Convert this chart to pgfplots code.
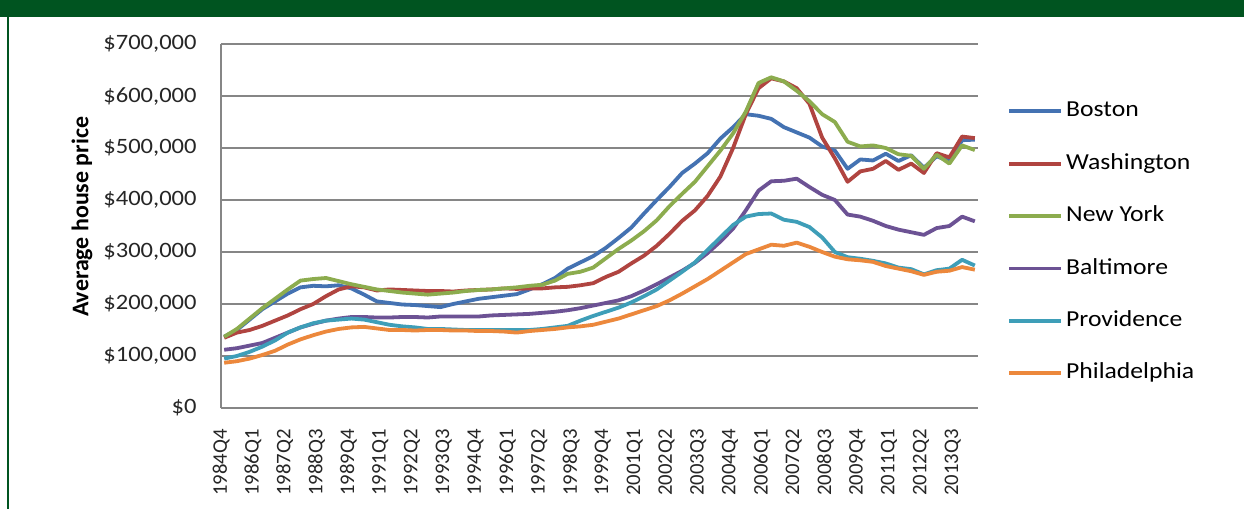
\documentclass[border=0pt]{standalone}
\usepackage{pgfplots}
\pgfplotsset{compat=1.18}
\usepackage{pgfplotstable}
\usepackage{fontspec}
\setmainfont{Carlito}
\newfontfamily\wide{Carlito}[FakeStretch=1.12]
\definecolor{banner}{RGB}{0,84,32}
\definecolor{gridgray}{RGB}{134,134,134}
\definecolor{cBos}{RGB}{68,114,178}
\definecolor{cWas}{RGB}{176,68,64}
\definecolor{cNY}{RGB}{140,172,78}
\definecolor{cBal}{RGB}{108,82,148}
\definecolor{cPro}{RGB}{62,158,184}
\definecolor{cPhi}{RGB}{236,136,60}
\pgfplotstableread{
idx bos was ny bal pro phi
0 137 135 137 112 95 87
2 150 145 152 115 100 90
4 170 150 172 120 108 95
6 190 158 192 125 118 102
8 205 168 210 135 130 110
10 220 178 228 145 145 122
12 232 190 245 155 155 132
14 235 200 248 162 163 140
16 234 215 250 168 168 147
18 236 228 244 172 170 152
20 230 234 238 175 172 155
22 218 232 233 175 170 156
24 205 226 228 174 165 153
26 202 228 225 174 160 150
28 199 227 222 175 157 150
30 198 226 220 175 155 149
32 196 225 218 174 152 150
34 194 225 220 176 152 150
36 200 224 222 176 151 149
38 205 226 225 176 150 149
40 210 227 227 176 150 148
42 213 228 228 178 150 148
44 216 230 230 179 150 147
46 219 229 232 180 150 145
48 228 230 235 181 150 148
50 238 230 237 183 152 150
52 250 232 245 185 155 152
54 268 233 258 188 158 155
56 280 236 262 192 168 157
58 292 240 270 197 177 160
60 308 252 288 202 185 166
62 327 262 306 207 193 172
64 347 278 322 215 203 180
66 374 293 340 226 215 188
68 400 312 361 238 228 196
70 425 335 388 251 245 207
72 452 360 412 264 262 220
74 470 380 435 279 280 234
76 490 408 465 298 304 248
78 518 445 495 320 328 264
80 540 500 528 345 352 280
82 565 565 570 380 368 296
84 562 615 625 418 373 305
86 556 634 636 436 374 314
88 540 628 628 437 362 312
90 530 615 610 441 358 318
92 520 585 590 425 348 310
94 503 520 565 410 328 300
96 495 480 550 400 300 291
98 460 435 512 372 290 286
100 478 455 503 368 287 284
102 476 460 505 360 283 281
104 489 475 500 350 278 273
106 475 458 488 343 270 268
108 486 470 485 338 267 263
110 462 452 460 333 257 256
112 484 490 487 346 265 262
114 475 482 470 350 268 264
116 515 522 505 368 285 271
118 516 519 496 359 274 266
}\data
\begin{document}
\begin{tikzpicture}
\useasboundingbox (-110.5bp,-50.5bp) rectangle (511.5bp,204bp);
\fill[white] (-110.5bp,-50.5bp) rectangle (511.5bp,204bp);
\fill[banner] (-110.5bp,195.5bp) rectangle (511.5bp,204bp);
\draw[banner, line width=0.8bp] (-106.5bp,-50.5bp) -- (-106.5bp,195.5bp);
\begin{axis}[
  at={(0,0)}, anchor=south west,
  scale only axis, width=378.5bp, height=182bp,
  xmin=-0.5, xmax=118.5, ymin=0, ymax=700,
  axis lines*=left,
  axis line style={draw=gridgray, line width=0.75bp},
  ymajorgrids, major grid style={draw=gridgray, line width=0.75bp},
  major tick length=0pt,
  ytick={0,100,...,700},
  yticklabels={{\$0},{\$100,000},{\$200,000},{\$300,000},{\$400,000},{\$500,000},{\$600,000},{\$700,000}},
  yticklabel style={font=\wide\fontsize{11}{13}\selectfont, inner sep=0pt, text=black!85},
  yticklabel shift=12bp,
  xtick={0,5,...,115},
  xticklabels={1984Q4,1986Q1,1987Q2,1988Q3,1989Q4,1991Q1,1992Q2,1993Q3,1994Q4,1996Q1,1997Q2,1998Q3,1999Q4,2001Q1,2002Q2,2003Q3,2004Q4,2006Q1,2007Q2,2008Q3,2009Q4,2011Q1,2012Q2,2013Q3},
  xticklabel style={xshift=-1.5bp, rotate=90, anchor=east, inner sep=0pt, font=\fontsize{10.4}{12}\selectfont, text=black!85},
  xticklabel shift=10.5bp,
  ylabel={Average house price},
  every axis y label/.style={at={(axis description cs:-0.1836,0.525)}, rotate=90, anchor=center, font=\bfseries\fontsize{12}{14}\selectfont},
  legend style={at={(1,0.455)}, anchor=west, xshift=14.5bp, draw=none, fill=none, inner sep=0pt,
    font=\wide\fontsize{11.5}{13}\selectfont, row sep=15.7bp, column sep=0bp,
    nodes={inner sep=0pt, text height=8bp, text depth=2.5bp}},
  legend cell align=left,
  legend image code/.code={\draw[#1] (0bp,0bp) -- (26bp,0bp);},
  every axis plot/.append style={line width=1.9bp, line join=round},
  clip=false,
]
\addplot[cBos] table[x=idx,y=bos] {\data};
\addlegendentry{\hspace{1.5bp}Boston}
\addplot[cWas] table[x=idx,y=was] {\data};
\addlegendentry{\hspace{1.5bp}Washington}
\addplot[cNY] table[x=idx,y=ny] {\data};
\addlegendentry{\hspace{1.5bp}New York}
\addplot[cBal] table[x=idx,y=bal] {\data};
\addlegendentry{\hspace{1.5bp}Baltimore}
\addplot[cPro] table[x=idx,y=pro] {\data};
\addlegendentry{\hspace{1.5bp}Providence}
\addplot[cPhi] table[x=idx,y=phi] {\data};
\addlegendentry{\hspace{1.5bp}Philadelphia}
\end{axis}
\end{tikzpicture}
\end{document}
